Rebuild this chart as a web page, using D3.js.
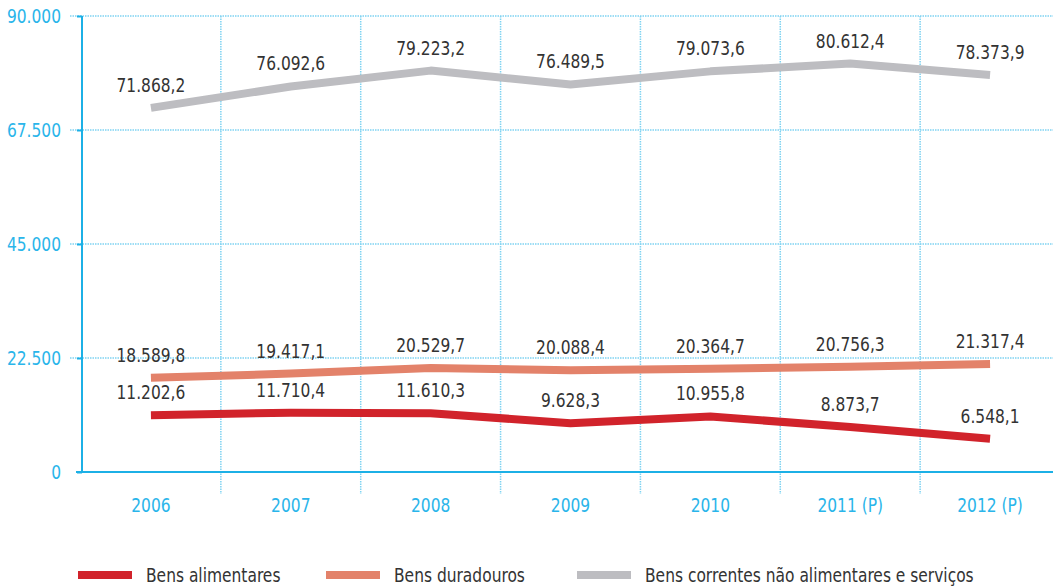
<!DOCTYPE html>
<html><head><meta charset="utf-8">
<script src="https://cdn.jsdelivr.net/npm/d3@7"></script>
<style>
body{margin:0;background:#fff;}
text{font-family:'Liberation Sans Narrow','DejaVu Sans Condensed',sans-serif;}
</style></head>
<body><svg id="c" width="1053" height="586"></svg>
<script>
const categories = ["2006","2007","2008","2009","2010","2011 (P)","2012 (P)"];
const alimentares = [11202.6,11710.4,11610.3,9628.3,10955.8,8873.7,6548.1];
const duradouros = [18589.8,19417.1,20529.7,20088.4,20364.7,20756.3,21317.4];
const correntes = [71868.2,76092.6,79223.2,76489.5,79073.6,80612.4,78373.9];
const seriesNames = ["Bens alimentares","Bens duradouros","Bens correntes não alimentares e serviços"];
const yTicks = [0,22500,45000,67500,90000];

const colors = ["#d1232b","#e3826a","#bdbdc1"];
const blue = "#1cb0e6";
const tickBlue = "#2ab5ea";
const series = [alimentares, duradouros, correntes];
const SX = 0.86, FS = 20;

const svg = d3.select("#c");
const x = d3.scaleBand().domain(categories).range([81,1060]);
const y = d3.scaleLinear().domain([0,90000]).range([472,16]);
const fmt = v => { const p = v.toFixed(1).split("."); return p[0].replace(/\B(?=(\d{3})+(?!\d))/g,".") + "," + p[1]; };
const fmtT = v => v===0 ? "0" : String(v).replace(/\B(?=(\d{3})+(?!\d))/g,".");

function label(g, tx, ty, txt, anchor, fill){
  return g.append("text").attr("transform",`translate(${tx},${ty}) scale(${SX},1)`)
    .attr("text-anchor",anchor).attr("fill",fill).attr("font-size",FS).text(txt);
}

// horizontal grid
svg.append("g").selectAll("line").data(yTicks.filter(d=>d>0)).join("line")
  .attr("x1",70).attr("x2",1053).attr("y1",d=>y(d)).attr("y2",d=>y(d))
  .attr("stroke","#7fd3f2").attr("stroke-width",1.5).attr("stroke-dasharray","1.5,1");
// vertical grid
svg.append("g").selectAll("line").data(categories.slice(1)).join("line")
  .attr("x1",d=>x(d)).attr("x2",d=>x(d)).attr("y1",16).attr("y2",494)
  .attr("stroke","#7fd3f2").attr("stroke-width",1.5).attr("stroke-dasharray","1.5,1");

// y axis
const ya = svg.append("g").attr("transform","translate(82,0)")
  .call(d3.axisLeft(y).tickValues(yTicks).tickFormat(fmtT).tickSize(5));
ya.select(".domain").attr("stroke",blue).attr("stroke-width",2).attr("d","M0,16V472");
ya.selectAll(".tick line").attr("stroke",blue).attr("stroke-width",2);
ya.selectAll(".tick text").remove();
const yl = svg.append("g");
yTicks.forEach(t=>label(yl, 61, y(t)+7, fmtT(t), "end", tickBlue));

// x axis line
svg.append("line").attr("x1",76).attr("x2",1053).attr("y1",472).attr("y2",472)
  .attr("stroke",blue).attr("stroke-width",2);
// x labels
const xl = svg.append("g");
categories.forEach(c=>label(xl, x(c)+x.bandwidth()/2, 512, c, "middle", tickBlue));

// lines
const line = d3.line().x((d,i)=>x(categories[i])+x.bandwidth()/2).y(d=>y(d));
series.forEach((s,k)=>{
  svg.append("path").datum(s).attr("d",line).attr("fill","none")
    .attr("stroke",colors[k]).attr("stroke-width",8).attr("stroke-linejoin","round");
  const g = svg.append("g");
  s.forEach((v,i)=>label(g, x(categories[i])+x.bandwidth()/2, y(v)-16, fmt(v), "middle", "#333"));
});

// legend
const legX = [78,326,577];
const lg = svg.append("g");
seriesNames.forEach((n,k)=>{
  lg.append("rect").attr("x",legX[k]).attr("y",571).attr("width",54).attr("height",8).attr("fill",colors[k]);
  label(lg, legX[k]+68, 582, n, "start", "#333");
});
</script></body></html>
